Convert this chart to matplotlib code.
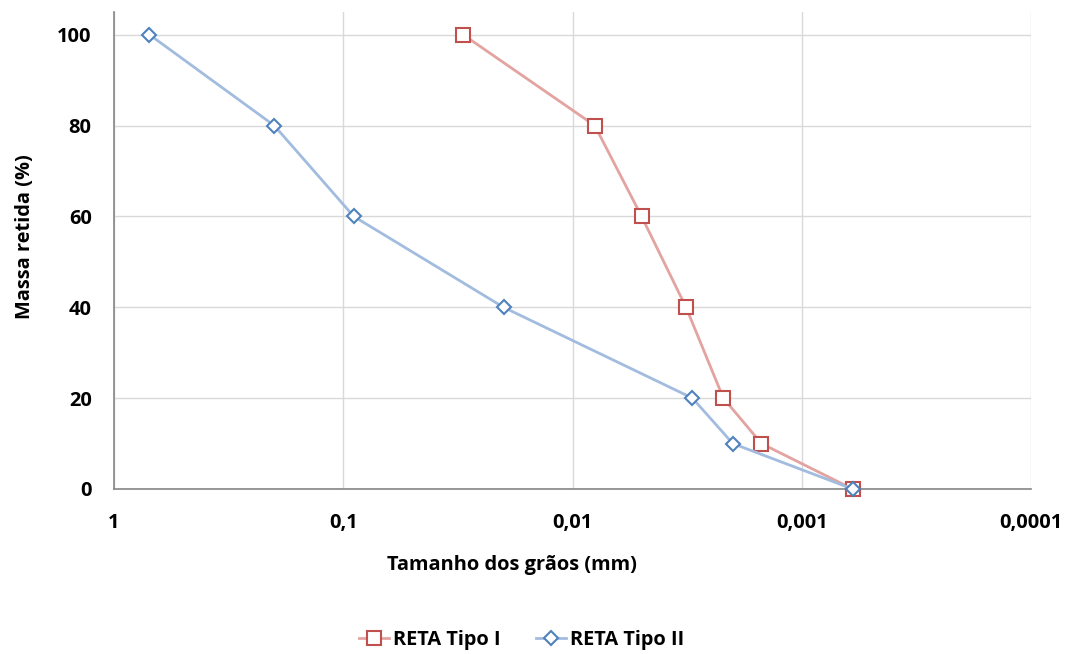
import matplotlib.pyplot as plt

# grain size (mm) vs retained mass (%)
size_tipo1 = [0.03, 0.008, 0.005, 0.0032, 0.0022, 0.0015, 0.0006]
massa_tipo1 = [100, 80, 60, 40, 20, 10, 0]

size_tipo2 = [0.7, 0.2, 0.09, 0.02, 0.003, 0.002, 0.0006]
massa_tipo2 = [100, 80, 60, 40, 20, 10, 0]

x_ticks = [1, 0.1, 0.01, 0.001, 0.0001]
x_tick_labels = ['1', '0,1', '0,01', '0,001', '0,0001']
y_ticks = [0, 20, 40, 60, 80, 100]

plt.rcParams['font.family'] = ['Open Sans', 'DejaVu Sans']
fs = 14.4

fig = plt.figure(figsize=(10.69, 6.54), dpi=100)
ax = fig.add_axes([0.1066, 0.2523, 0.858, 0.7294])

ax.plot(size_tipo1, massa_tipo1, color='#E3A3A1', linewidth=2,
        marker='s', markersize=10.5, markerfacecolor='white',
        markeredgecolor='#C0504D', markeredgewidth=1.5, label='RETA Tipo I',
        clip_on=False, zorder=3)
ax.plot(size_tipo2, massa_tipo2, color='#A2BCDF', linewidth=2,
        marker='D', markersize=7.5, markerfacecolor='white',
        markeredgecolor='#4F81BD', markeredgewidth=1.5, label='RETA Tipo II',
        clip_on=False, zorder=4)

ax.set_xscale('log')
ax.set_xlim(1, 0.0001)
ax.set_ylim(0, 105)
ax.set_xticks(x_ticks)
ax.set_xticklabels(x_tick_labels)
ax.minorticks_off()
ax.set_yticks(y_ticks)

ax.grid(True, color='#D9D9D9', linewidth=1)
ax.set_axisbelow(True)
for s in ['top', 'right']:
    ax.spines[s].set_visible(False)
for s in ['left', 'bottom']:
    ax.spines[s].set_color('#868686')
    ax.spines[s].set_linewidth(1.2)

ax.tick_params(length=0, labelsize=fs)
for lbl in ax.get_xticklabels() + ax.get_yticklabels():
    lbl.set_fontweight('bold')
ax.tick_params(axis='y', pad=16)
ax.tick_params(axis='x', pad=17)

ax.set_xlabel('Tamanho dos grãos (mm)', fontsize=fs, fontweight='bold', va='center')
ax.xaxis.set_label_coords(0.434, -0.159)
ax.set_ylabel('Massa retida (%)', fontsize=fs, fontweight='bold', va='center')
ax.yaxis.set_label_coords(-0.097, 0.53)

leg = fig.legend(loc='center', bbox_to_anchor=(0.488, 0.021), ncol=2,
                 frameon=False, prop={'size': fs, 'weight': 'bold'},
                 handlelength=1.5, columnspacing=1.8, handletextpad=0.2)

fig.savefig('out.png', dpi=100)
